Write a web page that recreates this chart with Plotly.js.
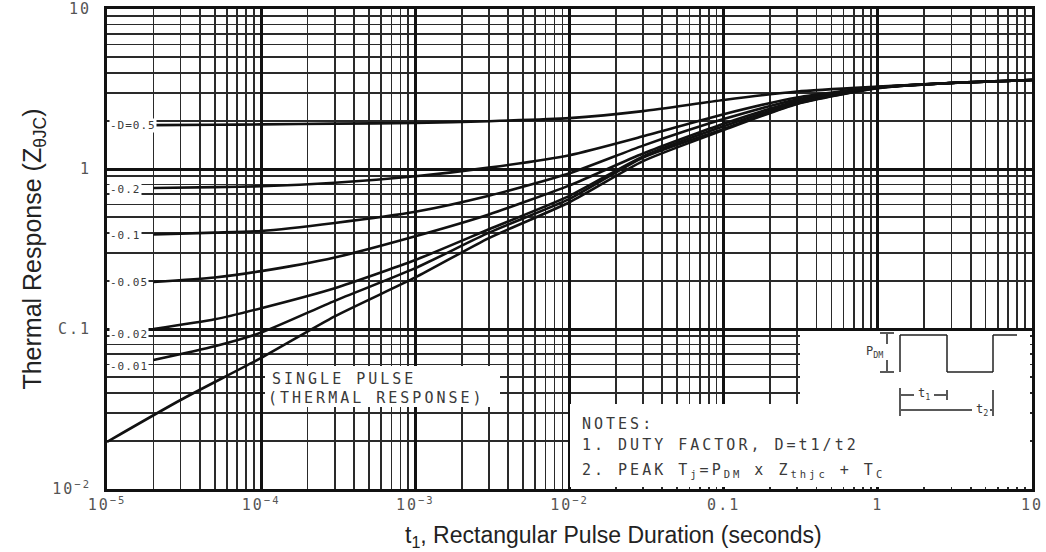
<!DOCTYPE html>
<html><head><meta charset="utf-8">
<script src="https://cdn.plot.ly/plotly-3.0.1.min.js"></script>
<style>
html,body{margin:0;padding:0;background:#fff}#chart{width:1046px;height:552px}
.xtick text,.ytick text{letter-spacing:2px}
text.annotation-text[style*="font-size: 11px"]{letter-spacing:1px}
text.annotation-text[style*="font-size: 15px"]{letter-spacing:3px}
</style>
</head><body><div id="chart"></div>
<script>
// ---- data ----
const tSingle = [1e-5, 3e-5, 1e-4, 3e-4, 1e-3, 3e-3, 1e-2, 3e-2, 0.1, 0.3, 1, 3, 10];
const zSingle = [0.0197, 0.036, 0.066, 0.12, 0.21, 0.37, 0.62, 1.12, 1.75, 2.55, 3.2, 3.45, 3.6];
const tDuty = [2e-5, 5e-5, 1e-4, 3e-4, 1e-3, 3e-3, 1e-2, 3e-2, 0.1, 0.3, 1, 3, 10];
const zD001 = [0.064, 0.078, 0.095, 0.15, 0.24, 0.40, 0.65, 1.18, 1.78, 2.57, 3.21, 3.45, 3.6];
const zD002 = [0.10, 0.115, 0.135, 0.18, 0.27, 0.42, 0.68, 1.2, 1.85, 2.6, 3.22, 3.45, 3.6];
const zD005 = [0.197, 0.21, 0.23, 0.28, 0.38, 0.52, 0.79, 1.25, 1.92, 2.65, 3.23, 3.45, 3.6];
const zD01  = [0.39, 0.40, 0.41, 0.46, 0.54, 0.68, 0.94, 1.4, 2.05, 2.72, 3.24, 3.45, 3.6];
const zD02  = [0.76, 0.77, 0.78, 0.82, 0.9, 1.02, 1.22, 1.6, 2.2, 2.8, 3.25, 3.45, 3.6];
const zD05  = [1.88, 1.89, 1.9, 1.92, 1.94, 1.99, 2.08, 2.3, 2.7, 3.05, 3.27, 3.45, 3.6];
const dutyLabels = ["D=0.5", "0.2", "0.1", "0.05", "0.02", "0.01"];
const dutyLabelY = [1.86, 0.74, 0.385, 0.195, 0.092, 0.058];
const xTickVals = [1e-5, 1e-4, 1e-3, 1e-2, 0.1, 1, 10];
const xTickText = ["10<sup>−5</sup>", "10<sup>−4</sup>", "10<sup>−3</sup>", "10<sup>−2</sup>", "0.1", "1", "10"];
const yTickVals = [0.01, 0.1, 1, 10];
const yTickText = ["10<sup>−2</sup>", "C.1", "1", "10"];

// ---- layout helpers ----
const L = 107, R = 1032, T = 9, B = 489;
const px = v => (v - L) / (R - L);
const py = v => (B - v) / (B - T);
function minorVals(lo, hi) { const a = []; for (let e = lo; e < hi; e++) for (let m = 2; m <= 9; m++) a.push(m * Math.pow(10, e)); return a; }

const line = {color: '#111', width: 2.6, shape: 'spline', smoothing: 0.6};
const series = [[tSingle, zSingle], [tDuty, zD001], [tDuty, zD002], [tDuty, zD005], [tDuty, zD01], [tDuty, zD02], [tDuty, zD05]];
const traces = series.map(s => ({x: s[0], y: s[1], type: 'scatter', mode: 'lines', line: line, hoverinfo: 'skip'}));

const mono = {family: 'DejaVu Sans Mono, Liberation Mono, monospace', color: '#3a3a3a'};
const annotations = [];
dutyLabels.forEach((t, i) => {
  annotations.push({x: Math.log10(1.03e-5), y: Math.log10(dutyLabelY[i]), xref: 'x', yref: 'y', text: '-' + t, showarrow: false,
    xanchor: 'left', yanchor: 'middle', bgcolor: '#fff', borderpad: 0, font: Object.assign({size: 11}, mono)});
});
const noteFont = Object.assign({size: 15}, mono);
const note = (x, y, text) => ({xref: 'paper', yref: 'paper', x: px(x), y: py(y), text: text, showarrow: false, xanchor: 'left', yanchor: 'middle', font: noteFont});
annotations.push(note(270, 379, 'SINGLE PULSE'));
annotations.push(note(266, 398, '(THERMAL RESPONSE)'));
annotations.push(note(580, 424, 'NOTES:'));
annotations.push(note(580, 445, '1. DUTY FACTOR, D=t1/t2'));
annotations.push(note(580, 470, '2. PEAK T<sub>j</sub>=P<sub>DM</sub> x Z<sub>thjc</sub> + T<sub>C</sub>'));
annotations.push({xref: 'paper', yref: 'paper', x: px(885), y: py(352), text: 'P<sub>DM</sub>', showarrow: false, xanchor: 'right', yanchor: 'middle', font: Object.assign({size: 12}, mono)});
annotations.push({xref: 'paper', yref: 'paper', x: px(924), y: py(394), text: 't<sub>1</sub>', showarrow: false, xanchor: 'center', yanchor: 'middle', font: Object.assign({size: 12}, mono)});
annotations.push({xref: 'paper', yref: 'paper', x: px(982), y: py(410), text: 't<sub>2</sub>', showarrow: false, xanchor: 'center', yanchor: 'middle', bgcolor: '#fff', borderpad: 0, font: Object.assign({size: 12}, mono)});
// x-axis title (placed where the reference has it)
annotations.push({xref: 'paper', yref: 'paper', x: px(613), y: py(536), text: 't<sub>1</sub>, Rectangular Pulse Duration (seconds)', showarrow: false,
  xanchor: 'center', yanchor: 'middle', font: {family: 'Liberation Sans, Arial, sans-serif', size: 23, color: '#222'}});

const seg = (x0, y0, x1, y1, w) => ({type: 'line', xref: 'paper', yref: 'paper', x0: px(x0), y0: py(y0), x1: px(x1), y1: py(y1), line: {color: '#222', width: w || 1.5}, layer: 'above'});
const box = (x0, y0, x1, y1) => ({type: 'rect', xref: 'paper', yref: 'paper', x0: px(x0), x1: px(x1), y0: py(y1), y1: py(y0), fillcolor: '#fff', line: {width: 0}, layer: 'above'});
const shapes = [
  box(265, 366, 500, 407),
  box(570, 404, 1030, 487),
  box(800, 331, 1030, 487),
  seg(900, 372, 900, 335), seg(900, 335, 947, 335), seg(947, 335, 947, 372), seg(947, 372, 993, 372), seg(993, 372, 993, 335), seg(993, 335, 1017, 335),
  seg(880, 333, 894, 333), seg(880, 372, 894, 372), seg(887, 334, 887, 344), seg(887, 360, 887, 371),
  seg(900, 388, 900, 416), seg(947, 390, 947, 400), seg(993, 390, 993, 416),
  seg(901, 395, 914, 395), seg(934, 395, 946, 395), seg(901, 410, 972, 410), seg(990, 410, 992, 410)
];

const layout = {
  width: 1046, height: 552,
  margin: {l: L, r: 1046 - R, t: T, b: 552 - B},
  paper_bgcolor: '#fff', plot_bgcolor: '#fff',
  showlegend: false,
  xaxis: {type: 'log', range: [-5, 1], tickmode: 'array', tickvals: xTickVals, ticktext: xTickText,
    showgrid: true, gridcolor: '#111', gridwidth: 3, ticks: '', showline: true, linecolor: '#111', linewidth: 3, mirror: true,
    tickfont: {family: 'DejaVu Sans Mono, monospace', size: 15, color: '#555'},
    minor: {tickmode: 'array', tickvals: minorVals(-5, 1), showgrid: true, gridcolor: '#2a2a2a', gridwidth: 1.7, ticks: ''},
    zeroline: false},
  yaxis: {type: 'log', range: [-2, 1], tickmode: 'array', tickvals: yTickVals, ticktext: yTickText,
    showgrid: true, gridcolor: '#111', gridwidth: 3, ticks: '', showline: true, linecolor: '#111', linewidth: 3, mirror: true,
    tickfont: {family: 'DejaVu Sans Mono, monospace', size: 15, color: '#555'}, ticklabelstandoff: 10,
    minor: {tickmode: 'array', tickvals: minorVals(-2, 1), showgrid: true, gridcolor: '#2a2a2a', gridwidth: 1.7, ticks: ''},
    title: {text: 'Thermal Response (Z<sub>θJC</sub>)', font: {family: 'Liberation Sans, Arial, sans-serif', size: 25, color: '#222'}, standoff: 4},
    zeroline: false},
  annotations: annotations,
  shapes: shapes
};
Plotly.newPlot('chart', traces, layout, {staticPlot: true, displayModeBar: false});
</script>
</body></html>
